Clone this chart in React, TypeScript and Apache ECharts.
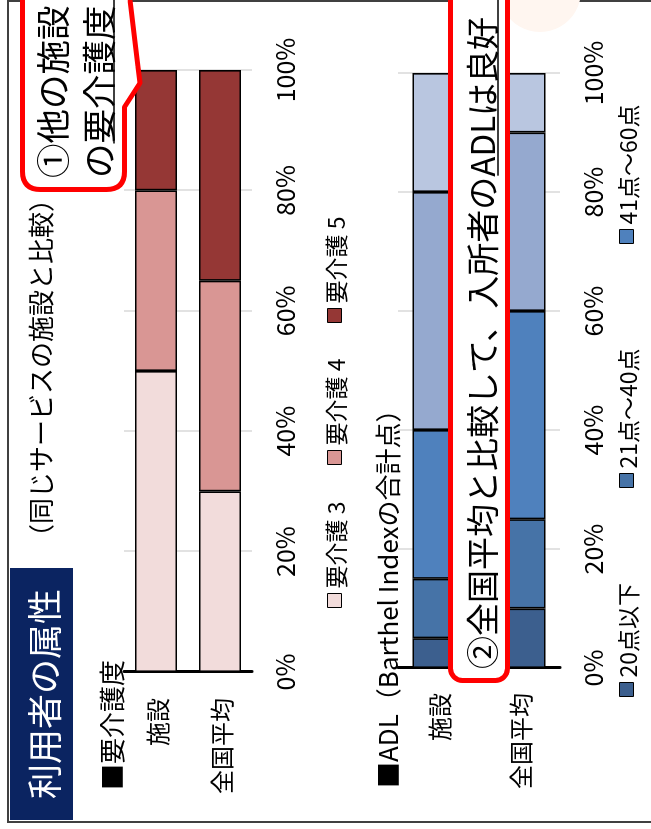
import React, { useEffect, useRef } from "react";
import * as echarts from "echarts";

// ---- data ----
const careCategories = ["施設", "全国平均"];
const careNames = ["要介護 3", "要介護 4", "要介護 5"];
const care3 = [50, 30];
const care4 = [30, 35];
const care5 = [20, 35];

const adlCategories = ["施設", "全国平均"];
const adlNames = ["20点以下", "21点～40点", "41点～60点", "61点～80点", "81点以上"];
const adl20 = [5, 10];
const adl40 = [10, 15];
const adl60 = [25, 35];
const adl80 = [40, 30];
const adl100 = [20, 10];

const titleText = "利用者の属性";
const subTitleText = "（同じサービスの施設と比較）";
const careHeading = "■要介護度";
const adlHeading = "■ADL（Barthel Indexの合計点）";
const note1Line1 = "①他の施設";
const note1Line2 = "の要介護度";
const note2Text = "②全国平均と比較して、入所者のADLは良好";
const note2Underlined = "ADLは良好";

// ---- style ----
const FONT = "'Noto Sans CJK JP', 'Noto Sans', sans-serif";
const careColors = ["#F2DCDB", "#D99694", "#953735"];
const adlColors = ["#3C5F8E", "#4673A7", "#4F81BD", "#95A9CF", "#B9C6E0"];

function measure(text: string, size: number) {
  const c = document.createElement("canvas").getContext("2d");
  if (!c) return text.length * size;
  c.font = `${size}px "Noto Sans CJK JP"`;
  return c.measureText(text).width;
}

export default function App() {
  const ref = useRef<HTMLDivElement>(null);

  useEffect(() => {
    if (!ref.current) return;
    const d =
      "M 657.5 22.5 L 960 22.5 L 960 124.5 L 874 124.5 L 746 140 L 722 124.5 L 657.5 124.5 Q 639.5 124.5 639.5 106.5 L 639.5 40.5 Q 639.5 22.5 657.5 22.5 Z";
    echarts.graphic.registerShape("callout1", echarts.graphic.extendPath(d, {}));

    const chart = echarts.init(ref.current, null, { renderer: "svg" });

    const n1Size = 34.5;
    const n1Left = 651;
    const n1UnderStart = n1Left + measure("の", n1Size);
    const n2Size = 33;
    const n2Left = 160;
    const n2UnderStart =
      n2Left + measure(note2Text.slice(0, note2Text.indexOf(note2Underlined)), n2Size);

    const valueAxis = (gi: number) => ({
      type: "value",
      gridIndex: gi,
      min: 0,
      max: 100,
      interval: 20,
      axisLine: { show: false },
      axisTick: { show: false },
      axisLabel: {
        formatter: "{value}%",
        fontSize: 25,
        fontFamily: FONT,
        color: "#000",
        margin: 19,
      },
      splitLine: { show: true, lineStyle: { color: "#D9D9D9", width: 1.5 } },
    });
    const catAxis = (gi: number, data: string[], margin: number) => ({
      type: "category",
      gridIndex: gi,
      data,
      inverse: true,
      axisLine: { show: true, lineStyle: { color: "#000", width: 3 } },
      axisTick: { show: false },
      axisLabel: { fontSize: 24, fontFamily: FONT, color: "#000", margin },
    });

    const careSeries = [care3, care4, care5].map((vals, i) => ({
      name: careNames[i],
      type: "bar",
      stack: "care",
      xAxisIndex: 0,
      yAxisIndex: 0,
      barWidth: 42,
      data: vals,
      itemStyle: { color: careColors[i], borderColor: "#000", borderWidth: 1.6 },
    }));
    const adlSeries = [adl20, adl40, adl60, adl80, adl100].map((vals, i) => ({
      name: adlNames[i],
      type: "bar",
      stack: "adl",
      xAxisIndex: 1,
      yAxisIndex: 1,
      barWidth: 52,
      data: vals,
      itemStyle: { color: adlColors[i], borderColor: "#000", borderWidth: 1.6 },
    }));

    const legendItem = (name: string, left: number, center: number) => ({
      data: [name],
      left,
      top: center - 12,
      icon: "rect",
      itemWidth: 14,
      itemHeight: 14,
      selectedMode: false,
      padding: 0,
      itemStyle: { borderColor: "#000", borderWidth: 1 },
      textStyle: { fontSize: 23, fontFamily: FONT, color: "#000" },
    });

    chart.setOption({
      animation: false,
      backgroundColor: "#fff",
      textStyle: { fontFamily: FONT },
      grid: [
        { left: 157, top: 124, width: 602, height: 128 },
        { left: 161, top: 398, width: 595, height: 162 },
      ],
      xAxis: [valueAxis(0), valueAxis(1)],
      yAxis: [catAxis(0, careCategories, 26), catAxis(1, adlCategories, 25)],
      legend: [
        legendItem(careNames[0], 221, 335),
        legendItem(careNames[1], 364, 335),
        legendItem(careNames[2], 506, 335),
        legendItem(adlNames[0], 132, 627),
        legendItem(adlNames[1], 341, 627),
        legendItem(adlNames[2], 585, 627),
      ],
      series: [...careSeries, ...adlSeries],
      graphic: [
        {
          type: "rect",
          silent: true,
          z: 1,
          shape: { x: 7, y: 8, width: 821, height: 700 },
          style: { fill: "none", stroke: "#404040", lineWidth: 2 },
        },
        {
          type: "circle",
          silent: true,
          z: 1,
          shape: { cx: 838, cy: 540, r: 41 },
          style: { fill: "#FFF6F0" },
        },
        {
          type: "rect",
          z: 5,
          shape: { x: 9, y: 10, width: 252, height: 63 },
          style: { fill: "#0B2461" },
        },
        {
          type: "text",
          z: 6,
          style: {
            text: titleText,
            x: 135,
            y: 42,
            align: "center",
            verticalAlign: "middle",
            fontSize: 35,
            fontFamily: FONT,
            fill: "#fff",
          },
        },
        {
          type: "text",
          z: 6,
          style: {
            text: subTitleText,
            x: 279,
            y: 39,
            verticalAlign: "middle",
            fontSize: 26,
            fontFamily: FONT,
            fill: "#000",
          },
        },
        {
          type: "text",
          z: 6,
          style: {
            text: careHeading,
            x: 39,
            y: 110,
            verticalAlign: "middle",
            fontSize: 26,
            fontFamily: FONT,
            fill: "#000",
          },
        },
        {
          type: "text",
          z: 6,
          style: {
            text: adlHeading,
            x: 41,
            y: 386,
            verticalAlign: "middle",
            fontSize: 26,
            fontFamily: FONT,
            fill: "#000",
          },
        },
        // callout 1
        {
          type: "callout1",
          z: 100,
          x: 0,
          y: 0,
          scaleX: 1,
          scaleY: 1,
          style: { fill: "#fff", stroke: "#FF0000", lineWidth: 5, lineJoin: "round" },
        },
        {
          type: "text",
          z: 101,
          style: {
            text: note1Line1,
            x: n1Left,
            y: 51,
            verticalAlign: "middle",
            fontSize: n1Size,
            fontFamily: FONT,
            fill: "#000",
          },
        },
        {
          type: "text",
          z: 101,
          style: {
            text: note1Line2,
            x: n1Left,
            y: 97,
            verticalAlign: "middle",
            fontSize: n1Size,
            fontFamily: FONT,
            fill: "#000",
          },
        },
        {
          type: "line",
          z: 101,
          shape: { x1: n1UnderStart, y1: 114, x2: 900, y2: 114 },
          style: { stroke: "#000", lineWidth: 1.5 },
        },
        // callout 2
        {
          type: "rect",
          z: 100,
          shape: { x: 148.5, y: 450.5, width: 800, height: 57, r: 12 },
          style: { fill: "#fff", stroke: "#FF0000", lineWidth: 5 },
        },
        {
          type: "text",
          z: 101,
          style: {
            text: note2Text,
            x: n2Left,
            y: 481,
            verticalAlign: "middle",
            fontSize: n2Size,
            fontFamily: FONT,
            fill: "#000",
          },
        },
        {
          type: "line",
          z: 101,
          shape: { x1: n2UnderStart, y1: 498, x2: 900, y2: 498 },
          style: { stroke: "#000", lineWidth: 1.5 },
        },
      ],
    });

    return () => chart.dispose();
  }, []);

  return (
    <div
      style={{
        position: "fixed",
        left: 0,
        top: 0,
        width: 829,
        height: 651,
        overflow: "hidden",
        background: "#fff",
        transformOrigin: "0 0",
        transform: "translate(0px, 829px) rotate(-90deg)",
      }}
    >
      <div ref={ref} style={{ width: 829, height: 651 }} />
    </div>
  );
}
